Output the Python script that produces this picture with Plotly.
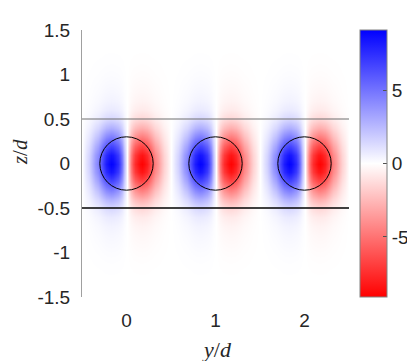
import numpy as np
import plotly.graph_objects as go

# Read-off half-period profile of the field along y (fraction of peak), y = 0 .. 0.5 step 0.025
y_half = [0.0, 0.025, 0.05, 0.075, 0.1, 0.125, 0.15, 0.175, 0.2, 0.225, 0.25,
          0.275, 0.3, 0.325, 0.35, 0.375, 0.4, 0.425, 0.45, 0.475, 0.5]
f_half = [0.0, 0.3, 0.55, 0.72, 0.84, 0.93, 0.98, 1.0, 0.97, 0.9, 0.81,
          0.71, 0.6, 0.5, 0.41, 0.33, 0.25, 0.18, 0.11, 0.055, 0.0]
# Read-off decay along z (fraction), z = 0 .. 1.5 step 0.1
z_half = [0.0, 0.1, 0.2, 0.3, 0.4, 0.5, 0.6, 0.7, 0.8, 0.9, 1.0, 1.1, 1.2, 1.3, 1.4, 1.5]
g_half = [1.0, 0.93, 0.74, 0.52, 0.32, 0.16, 0.085, 0.05, 0.033, 0.022, 0.013,
          0.007, 0.003, 0.001, 0.0, 0.0]
peak_value = 9.0
color_limit = 9.1

cylinder_centers = [0, 1, 2]
cylinder_radius = 0.3
slab_top = 0.5
slab_bottom = -0.5
y_ticks = [-1.5, -1, -0.5, 0, 0.5, 1, 1.5]
x_ticks = [0, 1, 2]
cb_ticks = [-5, 0, 5]

# Build one full period (-0.5..0.5): positive (blue) for y<0, negative (red) for y>0
n = len(y_half) - 1
period = [f_half[n - i] for i in range(n)] + [-v for v in f_half]  # -0.5 .. 0.5
period_vals = period[:-1]
step = 0.025
n_cols = int(round(3.0 / step)) + 1
ys = [-0.5 + i * step for i in range(n_cols)]
row_profile = [period_vals[i % len(period_vals)] for i in range(n_cols)]
row_profile[-1] = 0.0

zs = [-v for v in z_half[::-1]] + z_half[1:]
gz = g_half[::-1] + g_half[1:]

Z = peak_value * np.outer(np.array(gz), np.array(row_profile))

fig = go.Figure()
fig.add_trace(go.Heatmap(
    x=ys, y=zs, z=Z, zsmooth="best",
    zmin=-color_limit, zmax=color_limit,
    colorscale=[[0, "rgb(255,0,0)"], [0.5, "rgb(255,255,255)"], [1, "rgb(0,0,255)"]],
    colorbar=dict(
        x=1.041, xanchor="left", xpad=0, y=0.5, yanchor="middle", ypad=0,
        len=1, lenmode="fraction", thickness=27,
        outlinecolor="rgb(130,130,130)", outlinewidth=1,
        tickvals=cb_ticks, ticktext=[str(t) for t in cb_ticks],
        ticks="inside", ticklen=4, tickcolor="rgb(80,80,80)",
        tickfont=dict(family="Liberation Sans, Arial", size=19, color="#262626"),
    ),
    showscale=True, hoverinfo="skip",
))

shapes = []
for c in cylinder_centers:
    shapes.append(dict(type="circle", xref="x", yref="y",
                       x0=c - cylinder_radius, x1=c + cylinder_radius,
                       y0=-cylinder_radius, y1=cylinder_radius,
                       line=dict(color="black", width=1)))
shapes.append(dict(type="line", xref="x", yref="y", x0=-0.5, x1=2.5, y0=slab_top, y1=slab_top,
                   line=dict(color="rgb(110,110,110)", width=1)))
shapes.append(dict(type="line", xref="x", yref="y", x0=-0.5, x1=2.5, y0=slab_bottom, y1=slab_bottom,
                   line=dict(color="black", width=1.3)))

# page body has an 8px default margin at left/top, so the figure is 8px smaller
fig.update_layout(
    width=407, height=353,
    margin=dict(l=74, r=66, t=22, b=64, autoexpand=False),
    paper_bgcolor="white", plot_bgcolor="white",
    shapes=shapes,
    xaxis=dict(range=[-0.5, 2.5], tickvals=x_ticks, ticktext=[str(t) for t in x_ticks],
               showgrid=False, zeroline=False, showline=False, ticks="",
               ticklabelstandoff=10,
               tickfont=dict(family="Liberation Sans, Arial", size=19, color="#262626")),
    yaxis=dict(range=[-1.5, 1.5], tickvals=y_ticks,
               ticktext=["-1.5", "-1", "-0.5", "0", "0.5", "1", "1.5"],
               showgrid=False, zeroline=False, showline=True, linecolor="rgb(160,160,160)",
               linewidth=1, ticks="", ticklabelstandoff=7,
               tickfont=dict(family="Liberation Sans, Arial", size=19, color="#262626")),
    annotations=[
        dict(text="<i>y</i>/<i>d</i>", xref="paper", yref="paper", x=0.506, y=-0.198,
             showarrow=False, xanchor="center", yanchor="middle",
             font=dict(family="Liberation Serif, Times New Roman", size=22, color="#262626")),
        dict(text="<i>z</i>/<i>d</i>", xref="paper", yref="paper", x=-0.232, y=0.543,
             showarrow=False, xanchor="center", yanchor="middle", textangle=-90,
             font=dict(family="Liberation Serif, Times New Roman", size=21, color="#262626")),
    ],
)

fig.write_html("out.html")
